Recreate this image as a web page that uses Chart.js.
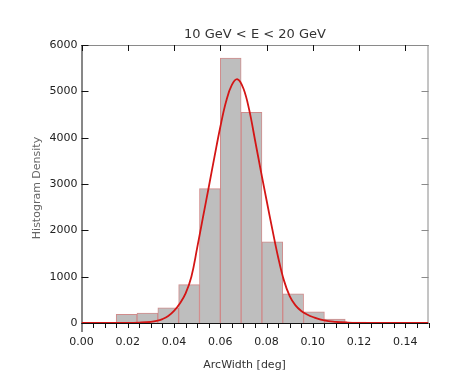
<!DOCTYPE html>
<html>
<head>
<meta charset="utf-8">
<script src="https://cdn.jsdelivr.net/npm/chart.js@4.4.1/dist/chart.umd.min.js"></script>
<style>
  body { margin: 0; background: #fff; }
  #wrap { width: 463px; height: 371px; position: relative; }
</style>
</head>
<body>
<div id="wrap"><canvas id="histChart"></canvas></div>
<script>
// histogram bins (centers, width 0.009 deg) and counts
var binCenters = [0.0195, 0.0285, 0.0375, 0.0465, 0.0555, 0.0645, 0.0735, 0.0825, 0.0915, 0.1005, 0.1095, 0.1185];
var binCounts = [186, 216, 328, 829, 2900, 5720, 4545, 1750, 630, 240, 87, 20];

// fitted curve
var curveX = [0, 0.01, 0.02, 0.025, 0.03, 0.0325, 0.035, 0.0375, 0.04, 0.0425, 0.045, 0.0475, 0.05, 0.0525, 0.055, 0.0575, 0.06, 0.0625, 0.065, 0.0675, 0.07, 0.0725, 0.075, 0.0775, 0.08, 0.0825, 0.085, 0.0875, 0.09, 0.0925, 0.095, 0.0975, 0.1, 0.105, 0.11, 0.115, 0.12, 0.13, 0.15];
var curveY = [0, 0, 3, 10, 25, 45, 85, 150, 260, 420, 640, 1000, 1620, 2280, 2930, 3590, 4230, 4780, 5140, 5260, 5060, 4600, 3950, 3290, 2650, 2020, 1420, 920, 580, 380, 260, 185, 130, 55, 25, 10, 4, 0, 0];

var xTicks = [0, 0.02, 0.04, 0.06, 0.08, 0.10, 0.12, 0.14];
var yTicks = [0, 1000, 2000, 3000, 4000, 5000, 6000];

var titleText = '10 GeV < E < 20 GeV';
var xTitle = 'ArcWidth [deg]';
var yTitle = 'Histogram Density';

var fontName = '"DejaVu Sans", sans-serif';

var histData = binCenters.map(function (c, i) { return { x: c, y: binCounts[i] }; });
var fitData = curveX.map(function (x, i) { return { x: x, y: curveY[i] }; });

// frame, inward ticks and titles, IDL style
var framePlugin = {
  id: 'frame',
  beforeDatasetsDraw: function (chart) {
    var ctx = chart.ctx, a = chart.chartArea;
    var xs = chart.scales.x, ys = chart.scales.y;
    ctx.save();
    ctx.lineWidth = 1;
    // top and right axes in gray
    ctx.strokeStyle = '#8a8a8a';
    ctx.beginPath();
    ctx.moveTo(a.left, a.top + 0.5); ctx.lineTo(a.right, a.top + 0.5);
    ctx.moveTo(a.right - 0.5, a.top); ctx.lineTo(a.right - 0.5, a.bottom);
    yTicks.forEach(function (v) {
      var py = Math.round(ys.getPixelForValue(v)) + 0.5;
      ctx.moveTo(a.right, py); ctx.lineTo(a.right - 7, py);
    });
    ctx.stroke();
    // left axis and bottom
    ctx.strokeStyle = '#111';
    ctx.beginPath();
    ctx.moveTo(a.left + 0.5, a.top); ctx.lineTo(a.left + 0.5, a.bottom + 9);
    ctx.moveTo(a.left, a.bottom + 0.5); ctx.lineTo(a.right, a.bottom + 0.5);
    yTicks.forEach(function (v) {
      var py = Math.round(ys.getPixelForValue(v)) + 0.5;
      ctx.moveTo(a.left, py); ctx.lineTo(a.left + 7, py);
    });
    xTicks.forEach(function (v) {
      var px = Math.round(xs.getPixelForValue(v)) + 0.5;
      ctx.moveTo(px, a.top); ctx.lineTo(px, a.top + 6);
    });
    for (var v = 0.005; v < 0.1501; v += 0.005) {
      var px = Math.round(xs.getPixelForValue(v)) + 0.5;
      ctx.moveTo(px, a.bottom); ctx.lineTo(px, a.bottom + 5);
    }
    ctx.stroke();
    ctx.restore();
  },
  afterDraw: function (chart) {
    var ctx = chart.ctx, a = chart.chartArea;
    var xs = chart.scales.x;
    ctx.save();
    ctx.textAlign = 'center';
    ctx.textBaseline = 'middle';
    ctx.fillStyle = '#333';
    ctx.font = '13px ' + fontName;
    ctx.fillText(titleText, (a.left + a.right) / 2, 35);
    ctx.font = '11px ' + fontName;
    ctx.fillText(xTitle, xs.getPixelForValue(0.0705), 365);
    ctx.fillStyle = '#666';
    ctx.translate(37, 188);
    ctx.rotate(-Math.PI / 2);
    ctx.fillText(yTitle, 0, 0);
    ctx.restore();
  }
};

var ctx = document.getElementById('histChart').getContext('2d');

var histChart = new Chart(ctx, {
  type: 'bar',
  data: {
    datasets: [{
      type: 'line',
      data: fitData,
      borderColor: '#d41515',
      borderWidth: 1.8,
      pointRadius: 0,
      tension: 0.4,
      order: 0
    }, {
      type: 'bar',
      data: histData,
      backgroundColor: '#bebebe',
      borderColor: 'rgba(200, 120, 120, 0.85)',
      borderWidth: 1,
      barPercentage: 1,
      categoryPercentage: 1,
      order: 1
    }]
  },
  options: {
    responsive: true,
    maintainAspectRatio: false,
    animation: false,
    devicePixelRatio: 1,
    layout: { padding: { top: 45, right: 34.5, left: 0, bottom: 0 } },
    plugins: {
      legend: { display: false },
      tooltip: { enabled: false }
    },
    scales: {
      x: {
        type: 'linear',
        min: 0,
        max: 0.15,
        offset: false,
        grid: { display: false, drawTicks: false },
        border: { display: false },
        afterFit: function (scale) { scale.height = 48; },
        afterBuildTicks: function (scale) {
          scale.ticks = xTicks.map(function (v) { return { value: v }; });
        },
        ticks: {
          padding: 13,
          maxRotation: 0,
          autoSkip: false,
          color: '#222',
          font: { family: fontName, size: 11 },
          callback: function (v) { return v.toFixed(2); }
        }
      },
      y: {
        min: 0,
        max: 6000,
        grid: { display: false, drawTicks: false },
        border: { display: false },
        afterFit: function (scale) { scale.width = 81.5; },
        afterBuildTicks: function (scale) {
          scale.ticks = yTicks.map(function (v) { return { value: v }; });
        },
        ticks: {
          padding: 4,
          color: '#222',
          font: { family: fontName, size: 11 },
          callback: function (v) { return String(v); }
        }
      }
    }
  },
  plugins: [framePlugin]
});
</script>
</body>
</html>
